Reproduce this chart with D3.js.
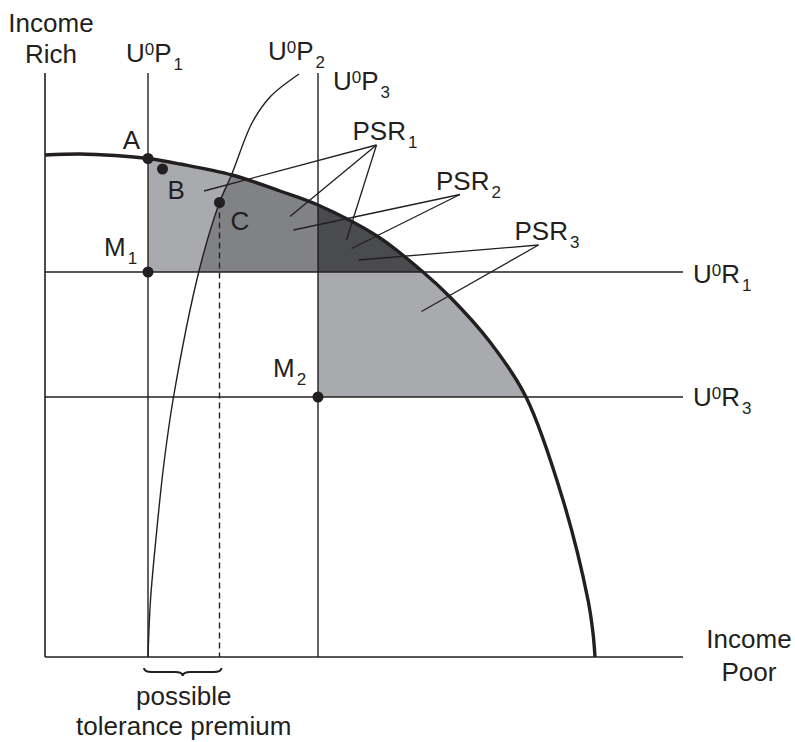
<!DOCTYPE html>
<html><head><meta charset="utf-8">
<script src="https://cdn.jsdelivr.net/npm/d3@7"></script>
<style>
body{margin:0;background:#fff}
svg{display:block}
text{font-family:"Liberation Sans",Arial,Helvetica,sans-serif;fill:#231f20}
</style>
</head><body>
<svg id="chart" width="795" height="742"></svg>
<script>
// ---- data (income units) ----
const frontierX = [0, 7, 14, 20.6, 27, 37.4, 47, 54.6, 66.4, 75.6, 81, 89, 96.2, 103.6, 108.6, 109.6, 110];
const frontierY = [100.4, 100.6, 100.3, 99.7, 98.6, 96.4, 93.2, 90.4, 84.2, 77, 72, 63, 52, 31.4, 11.4, 4.8, 0];
const u0p2X = [20.6, 21.1, 22.3, 23.7, 25.7, 30.8, 34.9, 37.3, 41.4, 45, 50.8];
const u0p2Y = [0, 11.4, 24.8, 38, 52, 77.2, 90.9, 96.4, 106.8, 112, 116.6];
const verticalNames = ["U^{0}P_{1}", "U^{0}P_{3}"];
const verticalX = [20.6, 54.6];
const horizontalNames = ["U^{0}R_{1}", "U^{0}R_{3}"];
const horizontalY = [77, 52];
const axisTop = 116.8, axisRight = 127.6;
const pointNames = ["A", "B", "C", "M_{1}", "M_{2}"];
const pointX = [20.6, 23.5, 34.9, 20.6, 54.6];
const pointY = [99.7, 97.6, 90.9, 77, 52];
const psrNames = ["PSR_{1}", "PSR_{2}", "PSR_{3}"];
const psrApex = [[66.3, 102.4], [83, 92.5], [98.7, 82.4]];
const psrTargets = [
  [[31.8, 93.2], [49, 88.1], [60.3, 83.4]],
  [[49.7, 85.4], [61.3, 81.7]],
  [[62.7, 79.4], [75.3, 69.1]]
];
const yAxisTitle = ["Income", "Rich"];
const xAxisTitle = ["Income", "Poor"];
const premiumText = ["possible", "tolerance premium"];

// ---- drawing ----
const svg = d3.select("#chart");
const x = d3.scaleLinear().domain([0, 130]).range([45, 695]);
const y = d3.scaleLinear().domain([0, 120]).range([657, 57]);
const ink = "#231f20";
const light = "#a8aaad", medium = "#818286", dark = "#4a4b4f";
const curve = d3.curveCatmullRom.alpha(0.5);
const frontier = frontierX.map((v, i) => ({x: v, y: frontierY[i]}));
const u0p2 = u0p2X.map((v, i) => ({x: v, y: u0p2Y[i]}));
const [P1, P3] = verticalX;
const [R1, R3] = horizontalY;

const defs = svg.append("defs");
defs.append("clipPath").attr("id", "fclip").append("path")
  .attr("d", d3.area().curve(curve).x(d => x(d.x)).y0(y(0)).y1(d => y(d.y))(frontier));
defs.append("clipPath").attr("id", "mclip").append("rect")
  .attr("x", x(P1)).attr("y", y(axisTop))
  .attr("width", x(P3) - x(P1)).attr("height", y(R1) - y(axisTop));

const shade = svg.append("g").attr("clip-path", "url(#fclip)");
shade.append("rect").attr("x", x(P1)).attr("y", y(axisTop))
  .attr("width", x(P3) - x(P1)).attr("height", y(R1) - y(axisTop)).attr("fill", light);
shade.append("g").attr("clip-path", "url(#mclip)").append("path")
  .attr("d", d3.area().curve(curve).y(d => y(d.y)).x0(d => x(d.x)).x1(x(P3))(u0p2))
  .attr("fill", medium);
shade.append("rect").attr("x", x(P3)).attr("y", y(axisTop))
  .attr("width", x(axisRight) - x(P3)).attr("height", y(R1) - y(axisTop)).attr("fill", dark);
shade.append("rect").attr("x", x(P3)).attr("y", y(R1))
  .attr("width", x(axisRight) - x(P3)).attr("height", y(R3) - y(R1)).attr("fill", light);

const lines = svg.append("g").attr("stroke", ink).attr("fill", "none");
// axes
lines.append("line").attr("x1", x(0)).attr("x2", x(0)).attr("y1", y(0)).attr("y2", y(axisTop)).attr("stroke-width", 1.6);
lines.append("line").attr("x1", x(0)).attr("x2", x(axisRight)).attr("y1", y(0)).attr("y2", y(0)).attr("stroke-width", 1.6);
verticalX.forEach(v => lines.append("line").attr("x1", x(v)).attr("x2", x(v))
  .attr("y1", y(0)).attr("y2", y(axisTop)).attr("stroke-width", 1.4));
horizontalY.forEach(v => lines.append("line").attr("x1", x(0)).attr("x2", x(axisRight))
  .attr("y1", y(v)).attr("y2", y(v)).attr("stroke-width", 1.4));
// U0P2 curve
lines.append("path").attr("d", d3.line().curve(curve).x(d => x(d.x)).y(d => y(d.y))(u0p2)).attr("stroke-width", 1.4);
// dashed drop from C
lines.append("line").attr("x1", x(pointX[2])).attr("x2", x(pointX[2]))
  .attr("y1", y(pointY[2])).attr("y2", y(0)).attr("stroke-width", 1.4).attr("stroke-dasharray", "6,4");
// leader lines
psrApex.forEach((a, i) => psrTargets[i].forEach(t => lines.append("line")
  .attr("x1", x(a[0])).attr("y1", y(a[1])).attr("x2", x(t[0])).attr("y2", y(t[1])).attr("stroke-width", 1.3)));
// frontier
lines.append("path").attr("d", d3.line().curve(curve).x(d => x(d.x)).y(d => y(d.y))(frontier))
  .attr("stroke-width", 3.4);
// brace
{
  const x1 = x(P1) - 4, x2 = x(pointX[2]) + 2, m = (x1 + x2) / 2, y0 = y(0) + 11;
  lines.append("path").attr("stroke-width", 2).attr("d",
    `M${x1},${y0} Q${x1},${y0+4} ${x1+8},${y0+4} L${m-8},${y0+4} Q${m},${y0+4} ${m},${y0+8} Q${m},${y0+4} ${m+8},${y0+4} L${x2-8},${y0+4} Q${x2},${y0+4} ${x2},${y0}`);
}
// dots
svg.append("g").selectAll("circle").data(pointX).join("circle")
  .attr("cx", d => x(d)).attr("cy", (d, i) => y(pointY[i])).attr("r", 5.5).attr("fill", ink);

// labels
function addLabel(xp, yp, str, anchor) {
  const t = svg.append("text").attr("x", xp).attr("y", yp).attr("font-size", 26)
    .attr("text-anchor", anchor || "start");
  let shift = 0;
  const re = /\^\{([^}]*)\}|_\{([^}]*)\}|([^\^_]+)/g;
  let m;
  while ((m = re.exec(str))) {
    const sup = m[1] !== undefined, sub = m[2] !== undefined;
    const target = sup ? -7 : sub ? 8 : 0;
    const ts = t.append("tspan").text(sup ? m[1] : sub ? m[2] : m[3]).attr("dy", target - shift);
    if (sup || sub) ts.attr("font-size", 17);
    if (sub) ts.attr("dx", 2);
    shift = target;
  }
}
addLabel(x(0) + 6, 32, yAxisTitle[0], "middle");
addLabel(x(0) + 6, 63, yAxisTitle[1], "middle");
addLabel(749, 648, xAxisTitle[0], "middle");
addLabel(749, 681, xAxisTitle[1], "middle");
addLabel(x(P1) - 22, 62, verticalNames[0]);
addLabel(x(u0p2X[u0p2X.length - 1]) - 31, 60, "U^{0}P_{2}");
addLabel(x(P3) + 15, 90, verticalNames[1]);
addLabel(x(0) + 648, y(R1) + 11, horizontalNames[0]);
addLabel(x(0) + 648, y(R3) + 9, horizontalNames[1]);
// point labels
addLabel(x(pointX[0]) - 8, y(pointY[0]) - 10, pointNames[0], "end");
addLabel(x(pointX[1]) + 5, y(pointY[1]) + 30, pointNames[1]);
addLabel(x(pointX[2]) + 11, y(pointY[2]) + 27, pointNames[2]);
addLabel(x(pointX[3]) - 44, y(pointY[3]) - 16, pointNames[3]);
addLabel(x(pointX[4]) - 45, y(pointY[4]) - 20, pointNames[4]);
psrApex.forEach((a, i) => addLabel(x(a[0]) - 24, y(a[1]) - 5, psrNames[i]));
const mid = (x(P1) + x(pointX[2])) / 2;
addLabel(mid, 705, premiumText[0], "middle");
addLabel(mid, 735, premiumText[1], "middle");
</script>
</body></html>
